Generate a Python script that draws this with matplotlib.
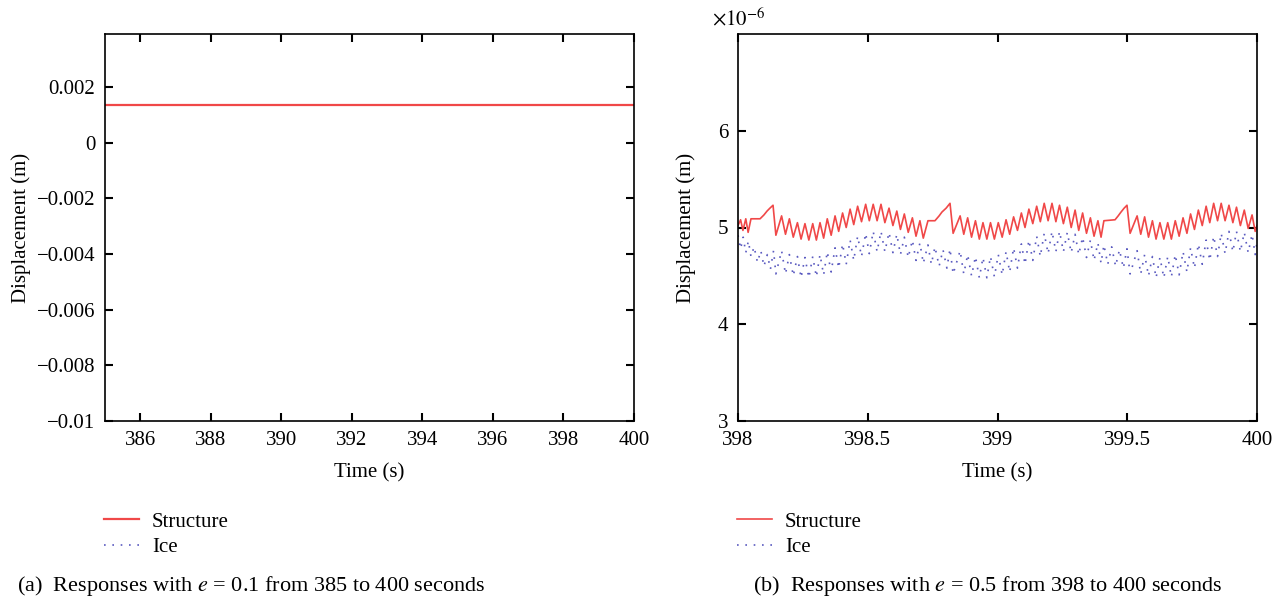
import numpy as np
import matplotlib.pyplot as plt

plt.rcParams['font.family'] = ['Liberation Serif', 'DejaVu Serif']
plt.rcParams['mathtext.fontset'] = 'stix'

# ---- panel (a): e = 0.1, 385-400 s (flat response) ----
a_time = [385.0, 400.0]
a_structure = [0.00135, 0.00135]
a_ice = [0.00134, 0.00134]
a_xticks = [386, 388, 390, 392, 394, 396, 398, 400]
a_yticks = [-0.01, -0.008, -0.006, -0.004, -0.002, 0.0, 0.002]
a_yticklabels = ['\u22120.01', '\u22120.008', '\u22120.006', '\u22120.004', '\u22120.002', '0', '0.002']

# ---- panel (b): e = 0.5, 398-400 s (values in 1e-6 m) ----
b_struct_t = [
    398.000, 398.010, 398.019, 398.030, 398.039, 398.050, 398.085, 398.100, 398.112, 398.123, 398.135, 398.146,
    398.168, 398.183, 398.198, 398.213, 398.229, 398.243, 398.258, 398.273, 398.288, 398.302,
    398.316, 398.330, 398.344, 398.359, 398.374, 398.388, 398.403, 398.417, 398.432, 398.446,
    398.461, 398.476, 398.492, 398.506, 398.521, 398.536, 398.551, 398.566, 398.582, 398.597,
    398.612, 398.626, 398.641, 398.656, 398.672, 398.686, 398.701, 398.714,
    398.732, 398.759, 398.775, 398.786, 398.802, 398.817, 398.829,
    398.856, 398.870, 398.885, 398.900, 398.915, 398.930, 398.944, 398.959, 398.973, 398.988,
    399.003, 399.018, 399.033, 399.047, 399.062, 399.077, 399.092, 399.106, 399.121, 399.136,
    399.151, 399.165, 399.180, 399.195, 399.210, 399.225, 399.239, 399.254, 399.269, 399.284,
    399.299, 399.313, 399.328, 399.343, 399.358, 399.372, 399.387, 399.399,
    399.410, 399.453, 399.465, 399.476, 399.488, 399.499, 399.511,
    399.538, 399.552, 399.567, 399.582, 399.597, 399.611, 399.626, 399.641, 399.656, 399.670,
    399.685, 399.700, 399.715, 399.730, 399.744, 399.759, 399.774, 399.789, 399.804, 399.818,
    399.833, 399.848, 399.862, 399.877, 399.892, 399.907, 399.921, 399.936, 399.951, 399.966,
    399.981, 399.993, 400.000,
]
b_struct_v = [
    5.02, 5.08, 4.97, 5.09, 4.95, 5.09, 5.09, 5.13, 5.17, 5.20, 5.23, 4.92,
    5.12, 4.93, 5.09, 4.90, 5.05, 4.88, 5.04, 4.87, 5.04, 4.87,
    5.05, 4.89, 5.09, 4.92, 5.12, 4.96, 5.15, 5.00, 5.19, 5.03,
    5.22, 5.06, 5.24, 5.07, 5.24, 5.07, 5.24, 5.05, 5.20, 5.02,
    5.17, 4.98, 5.14, 4.95, 5.10, 4.91, 5.07, 4.89,
    5.07, 5.07, 5.12, 5.16, 5.20, 5.25, 4.94,
    5.12, 4.93, 5.10, 4.90, 5.07, 4.88, 5.05, 4.88, 5.05, 4.88,
    5.05, 4.90, 5.08, 4.93, 5.11, 4.97, 5.15, 5.00, 5.19, 5.04,
    5.22, 5.06, 5.25, 5.07, 5.25, 5.06, 5.23, 5.04, 5.21, 5.00,
    5.18, 4.97, 5.15, 4.94, 5.10, 4.91, 5.07, 4.90,
    5.07, 5.08, 5.12, 5.16, 5.20, 5.23, 4.94,
    5.12, 4.93, 5.11, 4.90, 5.07, 4.88, 5.05, 4.88, 5.05, 4.88,
    5.07, 4.91, 5.10, 4.94, 5.14, 4.98, 5.18, 5.02, 5.22, 5.05,
    5.25, 5.07, 5.25, 5.07, 5.23, 5.05, 5.21, 5.02, 5.18, 4.99,
    5.13, 4.96, 5.02,
]

b_ice_t = [
    398.000, 398.010, 398.020, 398.030, 398.040, 398.050, 398.062, 398.075, 398.088, 398.100, 398.113, 398.125, 398.137, 398.146,
    398.168, 398.183, 398.198, 398.213, 398.229, 398.243, 398.258, 398.273, 398.288, 398.302,
    398.316, 398.330, 398.344, 398.359, 398.374, 398.388, 398.403, 398.417, 398.432, 398.446,
    398.461, 398.476, 398.492, 398.506, 398.521, 398.536, 398.551, 398.566, 398.582, 398.597,
    398.612, 398.626, 398.641, 398.656, 398.672, 398.686, 398.701, 398.714,
    398.732, 398.745, 398.759, 398.775, 398.790, 398.805, 398.817, 398.829,
    398.856, 398.870, 398.885, 398.900, 398.915, 398.930, 398.944, 398.959, 398.973, 398.988,
    399.003, 399.018, 399.033, 399.047, 399.062, 399.077, 399.092, 399.106, 399.121, 399.136,
    399.151, 399.165, 399.180, 399.195, 399.210, 399.225, 399.239, 399.254, 399.269, 399.284,
    399.299, 399.313, 399.328, 399.343, 399.358, 399.372, 399.387, 399.399,
    399.410, 399.425, 399.440, 399.455, 399.470, 399.485, 399.499, 399.511,
    399.538, 399.552, 399.567, 399.582, 399.597, 399.611, 399.626, 399.641, 399.656, 399.670,
    399.685, 399.700, 399.715, 399.730, 399.744, 399.759, 399.774, 399.789, 399.804, 399.818,
    399.833, 399.848, 399.862, 399.877, 399.892, 399.907, 399.921, 399.936, 399.951, 399.966,
    399.981, 399.993, 400.000,
]
b_ice_v = [
    4.92, 4.78, 4.90, 4.74, 4.86, 4.70, 4.80, 4.64, 4.76, 4.60, 4.72, 4.57, 4.76, 4.52,
    4.76, 4.52, 4.72, 4.50, 4.70, 4.48, 4.69, 4.48, 4.70, 4.49,
    4.72, 4.51, 4.75, 4.54, 4.79, 4.58, 4.83, 4.62, 4.87, 4.66,
    4.91, 4.70, 4.94, 4.73, 4.96, 4.75, 4.96, 4.75, 4.95, 4.74,
    4.93, 4.72, 4.90, 4.69, 4.87, 4.66, 4.84, 4.63,
    4.82, 4.62, 4.80, 4.60, 4.77, 4.58, 4.78, 4.52,
    4.76, 4.52, 4.72, 4.50, 4.70, 4.48, 4.69, 4.48, 4.70, 4.49,
    4.72, 4.51, 4.75, 4.54, 4.79, 4.58, 4.83, 4.62, 4.87, 4.66,
    4.91, 4.70, 4.94, 4.73, 4.96, 4.75, 4.96, 4.75, 4.95, 4.74,
    4.93, 4.72, 4.90, 4.69, 4.87, 4.66, 4.84, 4.63,
    4.82, 4.62, 4.80, 4.60, 4.77, 4.58, 4.78, 4.52,
    4.76, 4.52, 4.72, 4.50, 4.70, 4.48, 4.69, 4.48, 4.70, 4.49,
    4.72, 4.51, 4.75, 4.54, 4.79, 4.58, 4.83, 4.62, 4.87, 4.66,
    4.91, 4.70, 4.94, 4.73, 4.96, 4.75, 4.96, 4.75, 4.95, 4.74,
    4.93, 4.72, 4.85,
]
b_xticks = [398, 398.5, 399, 399.5, 400]
b_xticklabels = ['398', '398.5', '399', '399.5', '400']
b_yticks = [3, 4, 5, 6]

RED = '#f04848'
BLUE = '#5a5ac0'
ICE_STYLE = (0, (1, 4))
FS = 15

fig = plt.figure(figsize=(12.87, 6.01), dpi=100)
ax_a = fig.add_axes([105 / 1287, 180 / 601, 529 / 1287, 387 / 601])
ax_b = fig.add_axes([738 / 1287, 180 / 601, 519 / 1287, 387 / 601])

# panel (a)
ax_a.plot(a_time, a_ice, color=BLUE, lw=1.2, ls=ICE_STYLE, label='Ice')
ax_a.plot(a_time, a_structure, color=RED, lw=1.6, label='Structure')
ax_a.set_xlim(385, 400)
ax_a.set_ylim(-0.01, 0.0039)
ax_a.set_xticks(a_xticks)
ax_a.set_xticklabels([str(x) for x in a_xticks])
ax_a.set_yticks(a_yticks)
ax_a.set_yticklabels(a_yticklabels)

# panel (b)
ax_b.plot(b_ice_t, b_ice_v, color=BLUE, lw=1.2, ls=ICE_STYLE, label='Ice')
ax_b.plot(b_struct_t, b_struct_v, color=RED, lw=1.2, label='Structure')
ax_b.set_xlim(398, 400)
ax_b.set_ylim(3, 7)
ax_b.set_xticks(b_xticks)
ax_b.set_xticklabels(b_xticklabels)
ax_b.set_yticks(b_yticks)
ax_b.set_yticklabels([str(y) for y in b_yticks])
ax_b.text(-0.05, 1.008, r'$\times10^{-6}$', transform=ax_b.transAxes,
          ha='left', va='bottom', fontsize=FS)

for ax, ylab_x in ((ax_a, -74 / 529), (ax_b, -42 / 519)):
    ax.tick_params(direction='in', top=True, right=True, length=6, width=1.5,
                   labelsize=FS, pad=7)
    for sp in ax.spines.values():
        sp.set_linewidth(1.2)
    ax.set_xlabel('Time (s)', fontsize=FS)
    ax.set_ylabel('Displacement (m)', fontsize=FS)
    ax.xaxis.set_label_coords(0.5, -0.11)
    ax.yaxis.set_label_coords(ylab_x, 0.5)
    handles, labels = ax.get_legend_handles_labels()
    ax.legend(handles[::-1], labels[::-1], loc='upper left', bbox_to_anchor=(-0.002, -0.235),
              frameon=False, fontsize=FS, handlelength=1.7, handletextpad=0.6,
              labelspacing=0.3, borderaxespad=0, borderpad=0)

fig.text(17 / 1287, 1 - 586 / 601, r'(a)  Responses with $e$ = 0.1 from 385 to 400 seconds',
         ha='left', va='center', fontsize=FS + 1)
fig.text(753 / 1287, 1 - 586 / 601, r'(b)  Responses with $e$ = 0.5 from 398 to 400 seconds',
         ha='left', va='center', fontsize=FS + 1)

fig.savefig('out.png', dpi=100)
